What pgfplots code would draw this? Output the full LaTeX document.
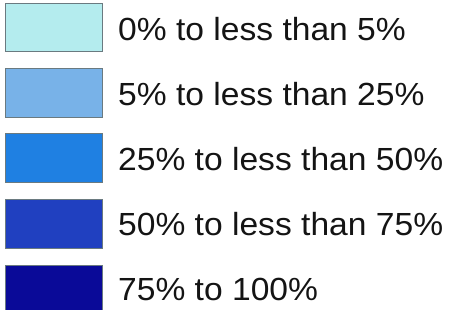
\documentclass[border=0pt]{standalone}
\usepackage{pgfplots}
\pgfplotsset{compat=1.18}
\usepackage{fontspec}
\setmainfont[FakeStretch=1.05]{Liberation Sans}
\definecolor{c1}{HTML}{B4ECEE}
\definecolor{c2}{HTML}{78B2E8}
\definecolor{c3}{HTML}{1F80E2}
\definecolor{c4}{HTML}{2040C0}
\definecolor{c5}{HTML}{0A0A98}
\definecolor{bord}{HTML}{6A7A80}
\begin{document}
\begin{tikzpicture}
\begin{axis}[
  width=452pt, height=309pt, scale only axis,
  xmin=0, xmax=452, ymin=0, ymax=309, y dir=reverse,
  hide axis, clip=true,
]
\addplot[fill=c1, draw=bord, line width=1pt] coordinates {(5,3) (102,3) (102,51) (5,51)} -- cycle;
\addplot[fill=c2, draw=bord, line width=1pt] coordinates {(5,68) (102,68) (102,117) (5,117)} -- cycle;
\addplot[fill=c3, draw=bord, line width=1pt] coordinates {(5,133) (102,133) (102,182) (5,182)} -- cycle;
\addplot[fill=c4, draw=bord, line width=1pt] coordinates {(5,199) (102,199) (102,248) (5,248)} -- cycle;
\addplot[fill=c5, draw=bord, line width=1pt] coordinates {(5,265) (102,265) (102,316) (5,316)} -- cycle;
\begin{scope}[every node/.style={anchor=base west, inner sep=0pt, text=black!92, font=\fontsize{32}{40}\selectfont}]
\node at (axis cs:118,40) {0\% to less than 5\%};
\node at (axis cs:118,105) {5\% to less than 25\%};
\node at (axis cs:118,170) {25\% to less than 50\%};
\node at (axis cs:118,235) {50\% to less than 75\%};
\node at (axis cs:118,300) {75\% to 100\%};
\end{scope}
\end{axis}
\pgfresetboundingbox
\path[use as bounding box] (current axis.south west) rectangle (current axis.north east);
\end{tikzpicture}
\end{document}
